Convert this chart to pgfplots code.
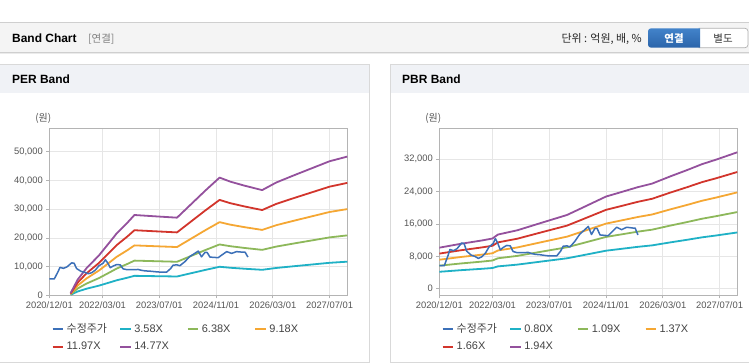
\documentclass[border=0pt]{standalone}
\usepackage{pgfplots}
\pgfplotsset{compat=1.18}
\usepackage{pgfplotstable}
\usepackage{fontspec}
\setmainfont{Liberation Sans}
\newfontfamily\cjk{Noto Sans CJK KR}
\definecolor{priceC}{HTML}{3C70B8}
\definecolor{c1}{HTML}{1FB1C6}
\definecolor{c2}{HTML}{8DB85A}
\definecolor{c3}{HTML}{F5A733}
\definecolor{c4}{HTML}{D2352C}
\definecolor{c5}{HTML}{94519D}
\definecolor{gridC}{HTML}{E6E6E6}
\definecolor{frameC}{HTML}{B4B4B4}
\definecolor{tickC}{HTML}{555555}
\definecolor{hdrC}{HTML}{F4F4F4}
\definecolor{panelC}{HTML}{F0F2F6}
\definecolor{lineC}{HTML}{CFCFCF}
\definecolor{btnA}{HTML}{4283CA}
\definecolor{btnB}{HTML}{2B64AA}

% adjusted price (months since 2020/12/01)
\pgfplotstableread{
m v
0 5680
1.4 5680
2.5 8300
3 9700
4 9400
5 9900
6.3 11300
7 11150
7.7 9300
9 8300
10 8000
11 7500
12 7900
13 8800
14 10300
15.2 11200
15.8 12400
16.5 11200
17.2 9600
18 10200
19 10700
20 10600
20.8 9200
22 8900
24 8900
25 9000
26 8700
27 8500
28.4 8400
30 8200
31 8100
33.1 8100
34.2 9300
34.9 10500
36 10600
36.8 10300
38.2 11700
39.6 13500
41 14600
42 15400
42.9 13400
43.9 14950
44.5 14900
45.3 13300
47.6 13100
48.6 14000
50 15200
51.4 14600
52.8 15200
54.6 15000
55.2 15000
55.8 13700
56 13300
}\price

% PER bands
\pgfplotstableread{
m a b c d e
6 179 319 459 599 739
8 1325 2361 3397 4429 5465
10.5 2291 4083 5875 7661 9453
14 3365 5997 8629 11252 13884
17 4475 7975 11475 14963 18463
19 5227 9315 13403 17476 21564
22 6122 10910 15698 20469 25257
24 6777 12077 17378 22659 27960
30 6662 11873 17084 22276 27487
36 6551 11675 16799 21905 27029
40 7697 13717 19737 25736 31756
44 8843 15759 22675 29566 36482
48 9935 17705 25475 33217 40987
51 9594 17098 24602 32080 39584
55 9254 16492 23730 30942 38180
60 8878 15822 22766 29686 36630
64 9523 16971 24419 31840 39288
69 10131 18055 25979 33875 41799
74 10722 19108 27494 35850 44236
79 11313 20161 29009 37825 46673
84 11707 20863 30019 39142 48298
}\per

% PBR bands
\pgfplotstableread{
m a b c d e
0 4184 5701 7165 8682 10146
6 4576 6235 7836 9495 11097
12 4920 6704 8426 10209 11931
15 5120 6976 8768 10624 12416
16.5 5520 7521 9453 11454 13386
22 5960 8121 10207 12367 14453
29 6744 9189 11549 13994 16354
36 7520 10246 12878 15604 18236
40 8200 11173 14043 17015 19885
47 9400 12808 16098 19505 22795
51 9824 13385 16824 20385 23823
56 10360 14116 17742 21497 25123
60 10720 14606 18358 22244 25996
65 11440 15587 19591 23738 27742
70 12120 16514 20756 25149 29391
74 12696 17298 21742 26344 30788
78 13160 17931 22537 27307 31913
84 13912 18955 23824 28867 33737
}\pbr

\pgfplotsset{
  bandaxis/.style={
    scale only axis, width=298bp, height=167bp,
    xmin=0, xmax=84,
    xtick={0,15,31,47,63,79},
    xticklabels={2020/12/01,2022/03/01,2023/07/01,2024/11/01,2026/03/01,2027/07/01},
    grid=major, major grid style={draw=gridC, line width=0.6bp},
    axis line style={draw=frameC, line width=0.9bp},
    tick style={draw=frameC, line width=0.6bp},
    tick align=outside, major tick length=3bp, tick pos=left,
    ticklabel style={font=\fontsize{9.4}{10}\selectfont, text=tickC},
    scaled y ticks=false,
    /pgf/number format/1000 sep={,},
    /pgf/number format/assume math mode=true,
    every axis plot/.append style={line width=1.8bp, line join=round},
    legend columns=4,
    legend cell align=left,
    legend image code/.code={\draw[##1, line width=2.2bp] (0bp,0bp) -- (10.5bp,0bp);},
    legend style={
      at={(axis description cs:0.0077,-0.172)}, anchor=north west,
      draw=none, fill=none, inner sep=0pt, outer sep=0pt,
      font=\fontsize{11}{12}\selectfont, text=tickC!80!black,
      /tikz/every odd column/.append style={column sep=2.4bp},
      /tikz/every even column/.append style={column sep=0bp},
      row sep=7bp,
      nodes={inner sep=0pt, text height=8bp, text depth=2.5bp},
    },
  }
}

\newcommand{\lb}[1]{\makebox[52.5bp][l]{#1}}

\begin{document}
\begin{tikzpicture}
\path[use as bounding box, fill=white] (0bp,0bp) rectangle (749bp,364bp);
% header bar
\fill[hdrC] (0bp,311.3bp) rectangle (749bp,341.3bp);
\draw[lineC, line width=1bp] (0bp,341.3bp) -- (749bp,341.3bp);
\draw[lineC, line width=1bp] (0bp,311.3bp) -- (749bp,311.3bp);
\draw[black!8, line width=1.2bp] (0bp,310.2bp) -- (749bp,310.2bp);
\node[anchor=base west, inner sep=0pt, font=\fontsize{12}{14}\selectfont\bfseries] at (12bp,321.7bp) {Band Chart};
\node[anchor=base west, inner sep=0pt, font=\fontsize{10.5}{12}\selectfont\cjk, text=black!50] at (88bp,321.9bp) {[연결]};
\node[anchor=base east, inner sep=0pt, font=\fontsize{11}{12}\selectfont\cjk, text=black!85] at (642bp,321.9bp) {단위 : 억원, 배, \%};
% buttons
\draw[black!30, fill=white, line width=0.7bp] (699bp,316.3bp) -- (745bp,316.3bp) [rounded corners=3bp] -- (748bp,316.3bp) -- (748bp,335.7bp) [sharp corners] -- (699bp,335.7bp) -- cycle;
\shade[top color=btnA, bottom color=btnB] (700bp,335.7bp) [rounded corners=3bp] -- (648bp,335.7bp) -- (648bp,316.3bp) [sharp corners] -- (700bp,316.3bp) -- cycle;
\node[inner sep=0pt, font=\fontsize{10.5}{12}\selectfont\cjk\bfseries, text=white] at (674bp,325.8bp) {연결};
\node[inner sep=0pt, font=\fontsize{10.5}{12}\selectfont\cjk, text=black!80] at (723bp,325.8bp) {별도};
% panels
\fill[panelC] (0bp,271bp) rectangle (369.3bp,300bp);
\fill[panelC] (390bp,271bp) rectangle (749bp,300bp);
\draw[black!15, line width=0.8bp] (0bp,300bp) -- (369.3bp,300bp);
\draw[black!15, line width=0.8bp] (390bp,300bp) -- (749bp,300bp);
\draw[black!15, line width=0.8bp] (0bp,1.5bp) -- (369.3bp,1.5bp) -- (369.3bp,300bp);
\draw[black!15, line width=0.8bp] (390bp,300bp) -- (390bp,1.5bp) -- (749bp,1.5bp);
\node[anchor=base west, inner sep=0pt, font=\fontsize{12}{14}\selectfont\bfseries] at (12bp,280bp) {PER Band};
\node[anchor=base west, inner sep=0pt, font=\fontsize{12}{14}\selectfont\bfseries] at (402bp,280bp) {PBR Band};
\node[inner sep=0pt, font=\fontsize{10}{12}\selectfont\cjk, text=tickC] at (43.3bp,245.7bp) {(원)};
\node[inner sep=0pt, font=\fontsize{10}{12}\selectfont\cjk, text=tickC] at (433.3bp,245.7bp) {(원)};

\begin{axis}[bandaxis, at={(49.3bp,68.7bp)}, anchor=south west,
  ymin=0, ymax=58150, ytick={0,10000,20000,30000,40000,50000}]
\addlegendimage{priceC}\addlegendentry{\lb{\cjk 수정주가}}
\addplot[c1] table[x=m, y=a] {\per}; \addlegendentry{\lb{3.58X}}
\addplot[c2] table[x=m, y=b] {\per}; \addlegendentry{\lb{6.38X}}
\addplot[c3] table[x=m, y=c] {\per}; \addlegendentry{\lb{9.18X}}
\addplot[c4] table[x=m, y=d] {\per}; \addlegendentry{\lb{11.97X}}
\addplot[c5] table[x=m, y=e] {\per}; \addlegendentry{\lb{14.77X}}
\addplot[priceC, line width=1.5bp, forget plot] table[x=m, y=v] {\price};
\end{axis}

\begin{axis}[bandaxis, at={(439.3bp,68.7bp)}, anchor=south west,
  ymin=-1630, ymax=39670, ytick={0,8000,16000,24000,32000}]
\addlegendimage{priceC}\addlegendentry{\lb{\cjk 수정주가}}
\addplot[c1] table[x=m, y=a] {\pbr}; \addlegendentry{\lb{0.80X}}
\addplot[c2] table[x=m, y=b] {\pbr}; \addlegendentry{\lb{1.09X}}
\addplot[c3] table[x=m, y=c] {\pbr}; \addlegendentry{\lb{1.37X}}
\addplot[c4] table[x=m, y=d] {\pbr}; \addlegendentry{\lb{1.66X}}
\addplot[c5] table[x=m, y=e] {\pbr}; \addlegendentry{\lb{1.94X}}
\addplot[priceC, line width=1.5bp, forget plot] table[x=m, y=v] {\price};
\end{axis}
\end{tikzpicture}
\end{document}
